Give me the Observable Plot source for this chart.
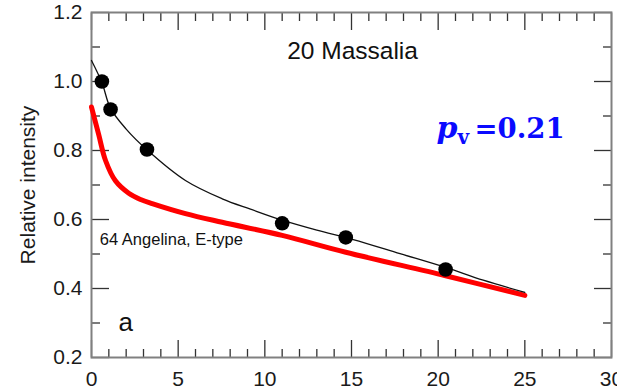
<!DOCTYPE html>
<html>
<head>
<meta charset="utf-8">
<script src="https://cdn.jsdelivr.net/npm/d3@7"></script>
<script src="https://cdn.jsdelivr.net/npm/@observablehq/plot@0.6"></script>
<style>
  html, body { margin: 0; padding: 0; background: #fff; }
  #chart svg { display: block; }
</style>
</head>
<body>
<div id="chart"></div>
<script>
// Black points: 20 Massalia
const massaliaPhase = [0.6, 1.1, 3.2, 11.0, 14.67, 20.43];
const massaliaIntensity = [1.0, 0.919, 0.803, 0.589, 0.548, 0.455];

// Black fitted curve
const fitPhase = [0, 0.6, 1.1, 2.0, 3.2, 5.42, 7.54, 9.17, 11.0, 13.0, 15.1, 17.8, 20.43, 22.6, 25.0];
const fitIntensity = [1.061, 0.997, 0.922, 0.862, 0.802, 0.713, 0.660, 0.630, 0.598, 0.569, 0.542, 0.501, 0.461, 0.424, 0.389];

// Red curve: 64 Angelina, E-type
const angelinaPhase = [0, 0.42, 0.81, 1.38, 2.15, 2.83, 3.5, 5.42, 7.54, 11.0, 14.67, 20.43, 25.0];
const angelinaIntensity = [0.926, 0.845, 0.771, 0.712, 0.676, 0.658, 0.646, 0.617, 0.592, 0.554, 0.505, 0.437, 0.380];

// Axis ticks
const xMajorTicks = [0, 5, 10, 15, 20, 25, 30];
const xMinorTicks = [1,2,3,4,6,7,8,9,11,12,13,14,16,17,18,19,21,22,23,24,26,27,28,29];
const yMajorTicks = [0.2, 0.4, 0.6, 0.8, 1.0, 1.2];
const yMinorTicks = [0.3, 0.5, 0.7, 0.9, 1.1];

const points = massaliaPhase.map((x, i) => ({x, y: massaliaIntensity[i]}));
const fit = fitPhase.map((x, i) => ({x, y: fitIntensity[i]}));
const angelina = angelinaPhase.map((x, i) => ({x, y: angelinaIntensity[i]}));

const frameColor = "#808080";
const tickColor = "#333";

const tickAxes = [];
for (const anchor of ["bottom", "top"]) {
  tickAxes.push(Plot.axisX(xMajorTicks, {anchor, tickSize: -17, stroke: tickColor, strokeWidth: 1.3, fill: "none", label: null}));
  tickAxes.push(Plot.axisX(xMinorTicks, {anchor, tickSize: -8, stroke: tickColor, strokeWidth: 1.3, fill: "none", label: null}));
}
for (const anchor of ["left", "right"]) {
  tickAxes.push(Plot.axisY(yMajorTicks, {anchor, tickSize: -18, stroke: tickColor, strokeWidth: 1.3, fill: "none", label: null}));
  tickAxes.push(Plot.axisY(yMinorTicks, {anchor, tickSize: -9, stroke: tickColor, strokeWidth: 1.3, fill: "none", label: null}));
}

const chart = Plot.plot({
  width: 617,
  height: 390,
  marginLeft: 91,
  marginRight: 6,
  marginTop: 12,
  marginBottom: 33,
  style: {fontFamily: "'Liberation Sans', Arial, sans-serif", background: "#fff", color: "#1a1a1a", overflow: "visible"},
  x: {domain: [0, 30]},
  y: {domain: [0.2, 1.2]},
  marks: [
    ...tickAxes,
    Plot.axisX(xMajorTicks, {anchor: "bottom", tickSize: 0, tickPadding: 14, fontSize: 21, label: null, fill: "#1a1a1a"}),
    Plot.axisY(yMajorTicks, {anchor: "left", tickSize: 0, tickPadding: 9, tickFormat: ".1f", fontSize: 21, label: null, fill: "#1a1a1a"}),
    Plot.text(["Relative intensity"], {frameAnchor: "left", rotate: -90, dx: -57, lineAnchor: "bottom", textAnchor: "middle", fontSize: 21, fill: "#1a1a1a"}),
    Plot.frame({stroke: frameColor, strokeWidth: 2}),
    Plot.line(angelina, {x: "x", y: "y", stroke: "#ff0000", strokeWidth: 5, curve: "catmull-rom"}),
    Plot.line(fit, {x: "x", y: "y", stroke: "#111", strokeWidth: 1.3, curve: "catmull-rom"}),
    Plot.dot(points, {x: "x", y: "y", r: 7.3, fill: "#000", stroke: "none"}),
    Plot.text(["20 Massalia"], {x: 15.06, y: 1.064, lineAnchor: "bottom", textAnchor: "middle", fontSize: 24.5, fill: "#111"}),
    Plot.text(["64 Angelina, E-type"], {x: 0.48, y: 0.527, lineAnchor: "bottom", textAnchor: "start", fontSize: 16.5, fill: "#111"}),
    Plot.text(["a"], {x: 1.56, y: 0.278, lineAnchor: "bottom", textAnchor: "start", fontSize: 26, fill: "#111"}),
    Plot.text(["p"], {x: 19.9, y: 0.836, lineAnchor: "bottom", textAnchor: "start", fontSize: 30, fontWeight: "bold", fontStyle: "italic", fontFamily: "'DejaVu Serif', serif", fill: "#0a0aff"}),
    Plot.text(["v"], {x: 21.12, y: 0.8186, lineAnchor: "bottom", textAnchor: "start", fontSize: 20, fontWeight: "bold", fontFamily: "'DejaVu Serif', serif", fill: "#0a0aff"}),
    Plot.text(["=0.21"], {x: 22.1, y: 0.836, lineAnchor: "bottom", textAnchor: "start", fontSize: 27.5, fontWeight: "bold", fontFamily: "'DejaVu Serif', serif", fill: "#0a0aff"})
  ]
});
document.getElementById("chart").appendChild(chart);
</script>
</body>
</html>
